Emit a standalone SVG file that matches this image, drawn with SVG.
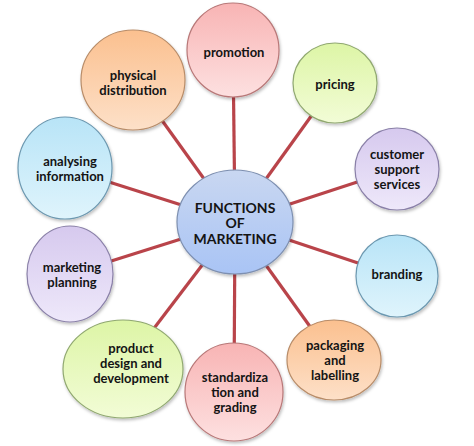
<svg xmlns="http://www.w3.org/2000/svg" width="474" height="446" viewBox="0 0 474 446">
<defs>
<linearGradient id="gBlue" x1="0" y1="0" x2="0" y2="1"><stop offset="0" stop-color="#c9d7f1"/><stop offset="1" stop-color="#a9c4f5"/></linearGradient>
<linearGradient id="gPink" x1="0" y1="0" x2="0" y2="1"><stop offset="0" stop-color="#f8b4b4"/><stop offset="1" stop-color="#fde0e0"/></linearGradient>
<linearGradient id="gGreen" x1="0" y1="0" x2="0" y2="1"><stop offset="0" stop-color="#ddf5a6"/><stop offset="1" stop-color="#f2fcd6"/></linearGradient>
<linearGradient id="gLav" x1="0" y1="0" x2="0" y2="1"><stop offset="0" stop-color="#d6c9ee"/><stop offset="1" stop-color="#eee8fa"/></linearGradient>
<linearGradient id="gPeach" x1="0" y1="0" x2="0" y2="1"><stop offset="0" stop-color="#fbc08f"/><stop offset="1" stop-color="#fde0c8"/></linearGradient>
<linearGradient id="gCyan" x1="0" y1="0" x2="0" y2="1"><stop offset="0" stop-color="#b8e4f7"/><stop offset="1" stop-color="#dff4fc"/></linearGradient>
<filter id="sh" x="-20%" y="-20%" width="140%" height="140%"><feDropShadow dx="1" dy="2" stdDeviation="1.5" flood-color="#000" flood-opacity="0.25"/></filter>
</defs>
<style>
.c{stroke-width:1.2;filter:url(#sh)}
.blue{fill:url(#gBlue);stroke:#7d8fb0}
.pink{fill:url(#gPink);stroke:#b87878}
.green{fill:url(#gGreen);stroke:#90a870}
.lav{fill:url(#gLav);stroke:#8a80a8}
.peach{fill:url(#gPeach);stroke:#b88c68}
.cyan{fill:url(#gCyan);stroke:#6c98b0}
text{font-family:Lato,"Open Sans","Liberation Sans",sans-serif;font-weight:bold;font-size:13px;fill:#141414;text-anchor:middle}
.big{font-size:14px}
#connectors line{stroke:#b9444a;stroke-width:3.2}
</style>
<g id="connectors">
<line x1="235" y1="222" x2="233" y2="50"/>
<line x1="235" y1="222" x2="335" y2="83"/>
<line x1="235" y1="222" x2="397" y2="169"/>
<line x1="235" y1="222" x2="397" y2="276"/>
<line x1="235" y1="222" x2="334" y2="360"/>
<line x1="235" y1="222" x2="234" y2="392"/>
<line x1="235" y1="222" x2="123" y2="369"/>
<line x1="235" y1="222" x2="70" y2="274"/>
<line x1="235" y1="222" x2="65" y2="168"/>
<line x1="235" y1="222" x2="133" y2="80"/>
</g>
<g id="promotion"><ellipse class="c pink" cx="233" cy="50" rx="46" ry="47"/><text x="234" y="57">promotion</text></g>
<g id="pricing"><ellipse class="c green" cx="335" cy="83" rx="42" ry="40"/><text x="335" y="89">pricing</text></g>
<g id="customer"><ellipse class="c lav" cx="397" cy="169" rx="42" ry="41"/><text x="397" y="159">customer</text><text x="397" y="174">support</text><text x="397" y="189">services</text></g>
<g id="branding"><ellipse class="c cyan" cx="397" cy="276" rx="41" ry="41"/><text x="397" y="279">branding</text></g>
<g id="packaging"><ellipse class="c peach" cx="334" cy="360" rx="47" ry="40"/><text x="335" y="350">packaging</text><text x="335" y="365">and</text><text x="335" y="380">labelling</text></g>
<g id="standardization"><ellipse class="c pink" cx="234" cy="392" rx="49" ry="49"/><text x="235" y="382">standardiza</text><text x="235" y="397">tion and</text><text x="235" y="412">grading</text></g>
<g id="product"><ellipse class="c green" cx="123" cy="369" rx="60" ry="49"/><text x="131" y="353">product</text><text x="131" y="368">design and</text><text x="131" y="383">development</text></g>
<g id="planning"><ellipse class="c lav" cx="70" cy="274" rx="43" ry="48"/><text x="72" y="272">marketing</text><text x="72" y="287">planning</text></g>
<g id="analysing"><ellipse class="c cyan" cx="65" cy="168" rx="47" ry="51"/><text x="70" y="166">analysing</text><text x="70" y="181">information</text></g>
<g id="physical"><ellipse class="c peach" cx="133" cy="80" rx="52" ry="50"/><text x="133" y="80">physical</text><text x="133" y="95">distribution</text></g>
<g id="center"><ellipse class="c blue" cx="235" cy="222" rx="58" ry="52"/><text class="big" x="235" y="212.5">FUNCTIONS</text><text class="big" x="235" y="228">OF</text><text class="big" x="235" y="243.5">MARKETING</text></g>
</svg>
